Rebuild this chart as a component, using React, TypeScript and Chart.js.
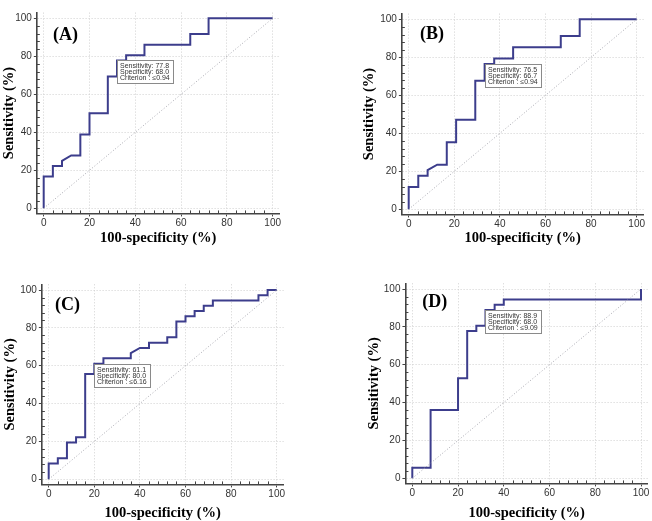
import React, { useEffect, useRef } from "react";
import { Chart, registerables } from "chart.js";

Chart.register(...registerables);

// ---- Data ----
const majorTicks = [0, 20, 40, 60, 80, 100];
const diagonalX = [0, 100];
const diagonalY = [0, 100];

// Panel A
const fprA = [0, 0, 4, 4, 8, 8, 12, 16, 16, 20, 20, 28, 28, 32, 32, 36, 36, 44, 44, 64, 64, 72, 72, 100];
const sensA = [0, 16.7, 16.7, 22.2, 22.2, 25, 27.8, 27.8, 38.9, 38.9, 50, 50, 69.4, 69.4, 77.8, 77.8, 80.6, 80.6, 86.1, 86.1, 91.7, 91.7, 100, 100];
const boxA = ["Sensitivity: 77.8", "Specificity: 68.0", "Criterion : \u22640.94"];
const critA = [32, 77.8];

// Panel B
const fprB = [0, 0, 4.2, 4.2, 8.3, 8.3, 12.5, 16.7, 16.7, 20.8, 20.8, 29.2, 29.2, 33.3, 33.3, 37.5, 37.5, 45.8, 45.8, 66.7, 66.7, 75, 75, 100];
const sensB = [0, 11.8, 11.8, 17.6, 17.6, 20.6, 23.5, 23.5, 35.3, 35.3, 47.1, 47.1, 67.6, 67.6, 76.5, 76.5, 79.4, 79.4, 85.3, 85.3, 91.2, 91.2, 100, 100];
const boxB = ["Sensitivity: 76.5", "Specificity: 66.7", "Criterion : \u22640.94"];
const critB = [33.3, 76.5];

// Panel C
const fprC = [0, 0, 4, 4, 8, 8, 12, 12, 16, 16, 20, 20, 24, 24, 36, 36, 40, 44, 44, 52, 52, 56, 56, 60, 60, 64, 64, 68, 68, 72, 72, 92, 92, 96, 96, 100];
const sensC = [0, 8.3, 8.3, 11.1, 11.1, 19.4, 19.4, 22.2, 22.2, 55.6, 55.6, 61.1, 61.1, 63.9, 63.9, 66.7, 69.4, 69.4, 72.2, 72.2, 75, 75, 83.3, 83.3, 86.1, 86.1, 88.9, 88.9, 91.7, 91.7, 94.4, 94.4, 97.2, 97.2, 100, 100];
const boxC = ["Sensitivity: 61.1", "Specificity: 80.0", "Criterion : \u22646.16"];
const critC = [20, 61.1];

// Panel D
const fprD = [0, 0, 8, 8, 20, 20, 24, 24, 28, 28, 32, 32, 36, 36, 40, 40, 100, 100];
const sensD = [0, 5.6, 5.6, 36.1, 36.1, 52.8, 52.8, 77.8, 77.8, 80.6, 80.6, 88.9, 88.9, 91.7, 91.7, 94.4, 94.4, 100];
const boxD = ["Sensitivity: 88.9", "Specificity: 68.0", "Criterion : \u22649.09"];
const critD = [32, 88.9];

const xTitle = "100-specificity (%)";
const yTitle = "Sensitivity (%)";

// ---- Layout (page pixels) ----
type Panel = {
  label: string;
  fpr: number[];
  sens: number[];
  box: string[];
  crit: number[];
  canvas: { left: number; top: number; w: number; h: number };
  map: { x0: number; x100: number; y0: number; y100: number };
  yTitleX: number;
  xTitleY: number;
  labelAt: number[];
};

const panels: Panel[] = [
  { label: "(A)", fpr: fprA, sens: sensA, box: boxA, crit: critA,
    canvas: { left: 0, top: 0, w: 326, h: 260 },
    map: { x0: 43.7, x100: 272.7, y0: 208.3, y100: 18.3 }, yTitleX: 9.5, xTitleY: 238, labelAt: [4.1, 91.2] },
  { label: "(B)", fpr: fprB, sens: sensB, box: boxB, crit: critB,
    canvas: { left: 326, top: 0, w: 326, h: 260 },
    map: { x0: 408.7, x100: 636.7, y0: 209.3, y100: 19.3 }, yTitleX: 369, xTitleY: 238, labelAt: [5, 92.2] },
  { label: "(C)", fpr: fprC, sens: sensC, box: boxC, crit: critC,
    canvas: { left: 0, top: 260, w: 326, h: 261 },
    map: { x0: 48.7, x100: 276.7, y0: 479.3, y100: 290 }, yTitleX: 10, xTitleY: 513, labelAt: [2.8, 91.9] },
  { label: "(D)", fpr: fprD, sens: sensD, box: boxD, crit: critD,
    canvas: { left: 326, top: 260, w: 326, h: 261 },
    map: { x0: 412.3, x100: 641, y0: 478.3, y100: 289 }, yTitleX: 374, xTitleY: 513, labelAt: [4.3, 92.9] },
];

const X_MIN = -3, X_MAX = 103, Y_MIN = -2.7, Y_MAX = 103;
const TITLE_FONT = 14.5;
const TITLE_LH = TITLE_FONT * 1.2;

const rocExtras = {
  id: "rocExtras",
  afterDatasetsDraw(chart: any, _args: any, opts: any) {
    const ctx = chart.ctx as CanvasRenderingContext2D;
    const xs = chart.scales.x;
    const ys = chart.scales.y;
    ctx.save();
    // minor ticks (inside)
    ctx.strokeStyle = "#444";
    ctx.lineWidth = 1;
    for (let v = 4; v < 100; v += 4) {
      if (v % 20 === 0) continue;
      const px = Math.round(xs.getPixelForValue(v)) + 0.5;
      ctx.beginPath();
      ctx.moveTo(px, ys.bottom);
      ctx.lineTo(px, ys.bottom - 3);
      ctx.stroke();
      const py = Math.round(ys.getPixelForValue(v)) + 0.5;
      ctx.beginPath();
      ctx.moveTo(xs.left, py);
      ctx.lineTo(xs.left + 3, py);
      ctx.stroke();
    }
    // panel label
    ctx.font = "bold 18px 'Liberation Serif'";
    ctx.fillStyle = "#000";
    ctx.textAlign = "left";
    ctx.textBaseline = "middle";
    ctx.fillText(opts.label, xs.getPixelForValue(opts.labelAt[0]), ys.getPixelForValue(opts.labelAt[1]));
    // criterion box
    const bx = Math.round(xs.getPixelForValue(opts.crit[0]));
    const by = Math.round(ys.getPixelForValue(opts.crit[1]));
    ctx.font = "7px 'Liberation Sans'";
    let w = 0;
    for (const t of opts.box) w = Math.max(w, ctx.measureText(t).width);
    const bw = Math.round(w + 6);
    const bh = 23;
    ctx.fillStyle = "#fff";
    ctx.fillRect(bx, by, bw, bh);
    ctx.strokeStyle = "#8a8a8a";
    ctx.lineWidth = 1;
    ctx.strokeRect(bx + 0.5, by + 0.5, bw, bh);
    ctx.fillStyle = "#333";
    ctx.textBaseline = "middle";
    opts.box.forEach((t: string, i: number) => {
      ctx.fillText(t, bx + 3, by + 5.7 + i * 6);
    });
    ctx.restore();
  },
};

function RocPanel({ p }: { p: Panel }) {
  const ref = useRef<HTMLCanvasElement>(null);
  useEffect(() => {
    if (!ref.current) return;
    const { canvas, map } = p;
    const sx = (map.x100 - map.x0) / 100;
    const sy = (map.y0 - map.y100) / 100;
    const areaLeft = map.x0 + X_MIN * sx;
    const areaRight = map.x0 + X_MAX * sx;
    const areaTop = map.y0 - Y_MAX * sy;
    const areaBottom = map.y0 - Y_MIN * sy;
    const yScaleW = areaLeft - canvas.left;
    const xScaleH = canvas.top + canvas.h - areaBottom;
    const padTop = areaTop - canvas.top;
    const padRight = canvas.left + canvas.w - areaRight;
    const yTitlePad = p.yTitleX - canvas.left - TITLE_LH / 2;
    const xTitlePad = canvas.top + canvas.h - p.xTitleY - TITLE_LH / 2;

    const setMajor = (axis: any) => {
      axis.ticks = majorTicks.map((v) => ({ value: v }));
    };

    const chart = new Chart(ref.current, {
      type: "line",
      data: {
        datasets: [
          {
            label: "diag",
            data: diagonalX.map((x, i) => ({ x, y: diagonalY[i] })),
            borderColor: "#a8a8b0",
            borderWidth: 1,
            borderDash: [1, 2],
            pointRadius: 0,
            fill: false,
          },
          {
            label: "ROC",
            data: p.fpr.map((x, i) => ({ x, y: p.sens[i] })),
            borderColor: "#3c3d8c",
            borderWidth: 2,
            pointRadius: 0,
            fill: false,
            tension: 0,
          },
        ],
      },
      options: {
        animation: false,
        responsive: false,
        events: [],
        layout: { padding: { left: 0, top: padTop, right: padRight, bottom: 0 } },
        plugins: {
          legend: { display: false },
          tooltip: { enabled: false },
          rocExtras: { label: p.label, labelAt: p.labelAt, crit: p.crit, box: p.box },
        } as any,
        scales: {
          x: {
            type: "linear",
            min: X_MIN,
            max: X_MAX,
            afterBuildTicks: setMajor,
            afterFit: (s: any) => { s.height = xScaleH; },
            grid: { color: "#d0d0d0", lineWidth: 1, tickLength: 3, tickColor: "#444", drawTicks: true },
            border: { display: true, color: "#444", width: 1.6, dash: [1, 2] },
            ticks: { font: { family: "'Liberation Sans'", size: 10 }, color: "#333", padding: 1, maxRotation: 0 },
            title: {
              display: true,
              text: xTitle,
              color: "#000",
              font: { family: "'Liberation Serif'", size: TITLE_FONT, weight: "bold" },
              padding: { top: 0, bottom: xTitlePad },
            },
          },
          y: {
            type: "linear",
            min: Y_MIN,
            max: Y_MAX,
            afterBuildTicks: setMajor,
            afterFit: (s: any) => { s.width = yScaleW; },
            grid: { color: "#d0d0d0", lineWidth: 1, tickLength: 3, tickColor: "#444", drawTicks: true },
            border: { display: true, color: "#444", width: 1.6, dash: [1, 2] },
            ticks: { font: { family: "'Liberation Sans'", size: 10 }, color: "#333", padding: 2 },
            title: {
              display: true,
              text: yTitle,
              color: "#000",
              font: { family: "'Liberation Serif'", size: TITLE_FONT, weight: "bold" },
              padding: { top: yTitlePad, bottom: 0 },
            },
          },
        },
      },
      plugins: [rocExtras],
    });
    return () => chart.destroy();
  }, [p]);
  return (
    <canvas
      ref={ref}
      width={p.canvas.w}
      height={p.canvas.h}
      style={{ position: "absolute", left: p.canvas.left, top: p.canvas.top, width: p.canvas.w, height: p.canvas.h }}
    />
  );
}

export default function App() {
  return (
    <div style={{ position: "absolute", left: 0, top: 0, width: 652, height: 521, background: "#fff" }}>
      {panels.map((p) => (
        <RocPanel key={p.label} p={p} />
      ))}
    </div>
  );
}
